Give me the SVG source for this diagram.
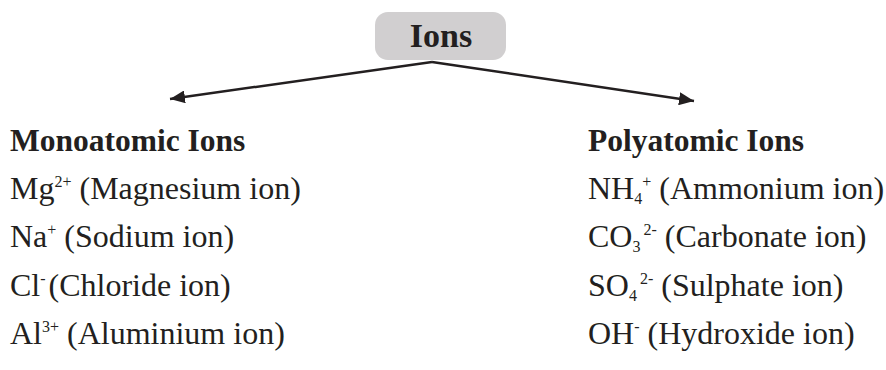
<svg xmlns="http://www.w3.org/2000/svg" width="886" height="370" viewBox="0 0 886 370">
<style>
.t{font-family:"Liberation Serif","Times New Roman",serif;fill:#231f20;font-size:32px}
.h{font-family:"Liberation Serif","Times New Roman",serif;fill:#231f20;font-size:31.5px;font-weight:bold}
.s{font-size:16px}
.c{fill:none;stroke:#231f20;stroke-width:2.5}
</style>
<defs>
<marker id="ah" viewBox="0 0 10 10" refX="10" refY="5" markerWidth="15" markerHeight="13" orient="auto" markerUnits="userSpaceOnUse" preserveAspectRatio="none">
<path d="M0,0 L10,5 L0,10 z" fill="#231f20"/>
</marker>
</defs>
<rect width="886" height="370" fill="#fff"/>
<g id="connectors">
<path class="c" d="M432,62 L170,99" marker-end="url(#ah)"/>
<path class="c" d="M432,62 L694,101" marker-end="url(#ah)"/>
</g>
<g id="ions">
<rect x="375" y="12" width="131" height="48" rx="13" fill="#d1cfd0"/>
<text x="441" y="47" text-anchor="middle" class="h" style="font-size:34px">Ions</text>
</g>
<g id="monoatomic">
<text x="10" y="151" class="h">Monoatomic Ions</text>
<text x="10" y="199" class="t">Mg<tspan class="s" dy="-12">2+</tspan><tspan dy="12"> (Magnesium ion)</tspan></text>
<text x="10" y="247" class="t">Na<tspan class="s" dy="-12">+</tspan><tspan dy="12"> (Sodium ion)</tspan></text>
<text x="10" y="296" class="t">Cl<tspan class="s" dy="-12">-</tspan><tspan dy="12" dx="3">(Chloride ion)</tspan></text>
<text x="10" y="344" class="t">Al<tspan class="s" dy="-12">3+</tspan><tspan dy="12"> (Aluminium ion)</tspan></text>
</g>
<g id="polyatomic">
<text x="588" y="151" class="h">Polyatomic Ions</text>
<text x="588" y="199" class="t">NH<tspan class="s" dy="5">4</tspan><tspan class="s" dy="-17">+</tspan><tspan dy="12"> (Ammonium ion)</tspan></text>
<text x="588" y="247" class="t">CO<tspan class="s" dy="5">3</tspan><tspan class="s" dy="-17" dx="3">2-</tspan><tspan dy="12"> (Carbonate ion)</tspan></text>
<text x="588" y="296" class="t">SO<tspan class="s" dy="5">4</tspan><tspan class="s" dy="-17" dx="3">2-</tspan><tspan dy="12"> (Sulphate ion)</tspan></text>
<text x="588" y="344" class="t">OH<tspan class="s" dy="-12">-</tspan><tspan dy="12"> (Hydroxide ion)</tspan></text>
</g>
</svg>
